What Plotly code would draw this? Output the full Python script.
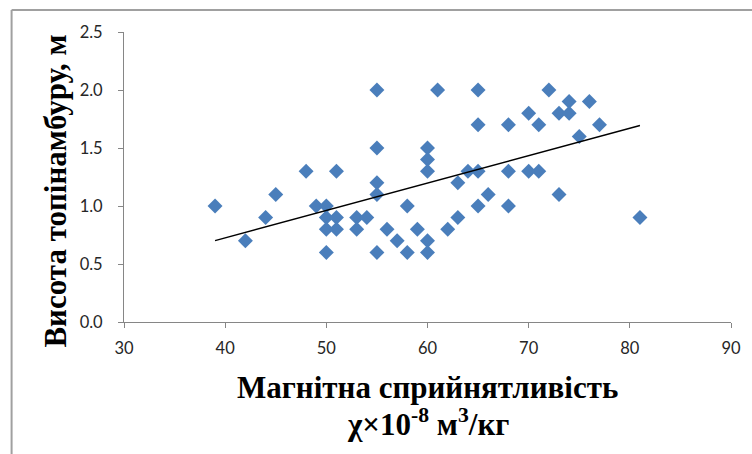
import numpy as np
import plotly.graph_objects as go

# Magnetic susceptibility (x10^-8 m3/kg)
chi = [39, 42, 44, 45, 48, 49,
       50, 50, 50, 50,
       51, 51, 51,
       53, 53, 54,
       55, 55, 55, 55, 55,
       56, 57, 58, 58, 59,
       60, 60, 60, 60, 60,
       61, 62, 63, 63, 64,
       65, 65, 65, 65,
       66, 68, 68, 68,
       70, 70, 71, 71, 72,
       73, 73, 74, 74, 75, 76, 77, 81]
# Jerusalem artichoke height (m)
height = [1.0, 0.7, 0.9, 1.1, 1.3, 1.0,
          1.0, 0.9, 0.8, 0.6,
          1.3, 0.9, 0.8,
          0.9, 0.8, 0.9,
          2.0, 1.5, 1.2, 1.1, 0.6,
          0.8, 0.7, 1.0, 0.6, 0.8,
          1.5, 1.4, 1.3, 0.7, 0.6,
          2.0, 0.8, 1.2, 0.9, 1.3,
          2.0, 1.7, 1.3, 1.0,
          1.1, 1.7, 1.3, 1.0,
          1.8, 1.3, 1.7, 1.3, 2.0,
          1.8, 1.1, 1.9, 1.8, 1.6, 1.9, 1.7, 0.9]

x_ticks = [30, 40, 50, 60, 70, 80, 90]
y_ticks = [0.0, 0.5, 1.0, 1.5, 2.0, 2.5]

x_title_1 = "Магнітна сприйнятливість"
x_title_2 = "χ×10<sup>-8</sup> м<sup>3</sup>/кг"
y_title = "Висота топінамбуру, м"

# linear trend line
k, b = np.polyfit(chi, height, 1)
tx = [min(chi), max(chi)]
ty = [k * v + b for v in tx]

fig = go.Figure()
fig.add_trace(go.Scatter(
    x=chi, y=height, mode="markers",
    marker=dict(symbol="diamond", size=11.5, color="#4a7ebb", line=dict(width=0)),
    showlegend=False, hoverinfo="x+y"))
fig.add_trace(go.Scatter(
    x=tx, y=ty, mode="lines",
    line=dict(color="black", width=1.4),
    showlegend=False, hoverinfo="skip"))

W, H = 752, 454
L, R, T, B = 123.5, 21, 32, 132
pw, ph = W - L - R, H - T - B

def px(xp):
    return (xp - L) / pw

def py(yp):
    return (H - B - yp) / ph

tickfont = dict(family="Lato, Open Sans, sans-serif", size=16.5, color="#262626")
axiscol = "#868686"
titlefont = dict(family="Liberation Serif", size=31, color="black", weight="bold")

fig.update_layout(
    width=W, height=H,
    margin=dict(l=L, r=R, t=T, b=B),
    paper_bgcolor="white", plot_bgcolor="white",
    xaxis=dict(range=[30, 90], tickvals=x_ticks, ticktext=[str(v) for v in x_ticks],
               showgrid=False, zeroline=False, showline=True, linecolor=axiscol, linewidth=1,
               ticks="outside", ticklen=5, tickcolor=axiscol, tickfont=tickfont,
               ticklabelstandoff=6),
    yaxis=dict(range=[0, 2.5], tickvals=y_ticks, ticktext=[f"{v:.1f}" for v in y_ticks],
               showgrid=False, zeroline=False, showline=True, linecolor=axiscol, linewidth=1,
               ticks="outside", ticklen=5, tickcolor=axiscol, tickfont=tickfont,
               ticklabelstandoff=12),
    shapes=[
        dict(type="line", xref="paper", yref="paper",
             x0=px(11), x1=px(11), y0=py(H + 5), y1=py(10),
             line=dict(color="#a0a0a0", width=2)),
        dict(type="line", xref="paper", yref="paper",
             x0=px(11), x1=px(W + 5), y0=py(10), y1=py(10),
             line=dict(color="#a0a0a0", width=2)),
    ],
    annotations=[
        dict(text=x_title_1, xref="paper", yref="paper", x=0.5, y=py(368),
             xanchor="center", yanchor="top", showarrow=False, font=titlefont),
        dict(text=x_title_2, xref="paper", yref="paper", x=0.5, y=py(401),
             xanchor="center", yanchor="top", showarrow=False, font=titlefont),
        dict(text=y_title, xref="paper", yref="paper", x=px(54), y=py(191),
             xanchor="center", yanchor="middle", textangle=-90, showarrow=False,
             font=titlefont),
    ],
)

fig.write_html("out.html", config={"displayModeBar": False},
               post_script="document.body.style.margin='0';")
